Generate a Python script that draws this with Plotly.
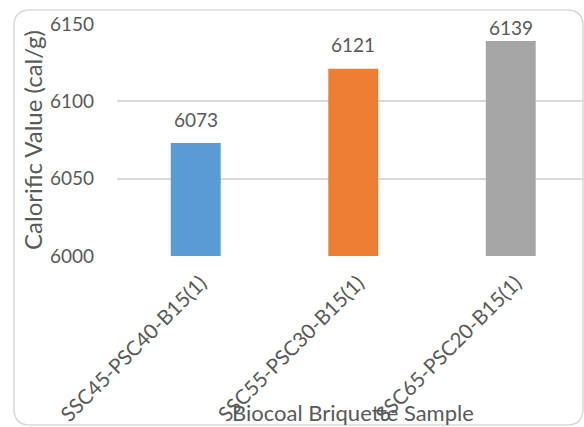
import plotly.graph_objects as go

samples = ["SSC45-PSC40-B15(1)", "SSC55-PSC30-B15(1)", "SSC65-PSC20-B15(1)"]
calorific = [6073, 6121, 6139]
bar_colors = ["#5B9BD5", "#ED7D31", "#A5A5A5"]
y_ticks = [6000, 6050, 6100, 6150]
y_range = [6000, 6150]

W, H = 584, 427
ML, MR, MT, MB = 117, 0, 24, 171
pw, ph = W - ML - MR, H - MT - MB

FONT = "Lato"
TXT = "#595959"


def px_to_paper(x, y):
    return (x - ML) / pw, (H - MB - y) / ph


def rounded_frame(x0, y0, x1, y1, r):
    # rounded rectangle in paper coordinates, corners given in pixels
    rx, ry = r / pw, r / ph
    a0, b0 = px_to_paper(x0, y1)
    a1, b1 = px_to_paper(x1, y0)
    return (f"M {a0+rx},{b0} L {a1-rx},{b0} Q {a1},{b0} {a1},{b0+ry} "
            f"L {a1},{b1-ry} Q {a1},{b1} {a1-rx},{b1} "
            f"L {a0+rx},{b1} Q {a0},{b1} {a0},{b1-ry} "
            f"L {a0},{b0+ry} Q {a0},{b0} {a0+rx},{b0} Z")


fig = go.Figure(
    go.Bar(
        x=samples,
        y=calorific,
        marker=dict(color=bar_colors, line=dict(width=0)),
        width=0.317,
        hoverinfo="x+y",
    )
)

# value labels above the bars, pushed down when close to the top of the chart
px_per_unit = ph / (y_range[1] - y_range[0])
for s, v in zip(samples, calorific):
    top_px = (y_range[1] - v) * px_per_unit  # distance of bar top below plot top
    shift = min(24, top_px - 4)
    fig.add_annotation(
        x=s, y=v, text=str(v), showarrow=False,
        xanchor="center", yanchor="middle", yshift=shift,
        font=dict(family=FONT, size=19, color=TXT),
    )

tx, ty = px_to_paper(353, 412)
fig.add_annotation(
    text="Biocoal Briquette Sample", xref="paper", yref="paper",
    x=tx, y=ty, showarrow=False, xanchor="center", yanchor="middle",
    font=dict(family=FONT, size=22, color=TXT),
)

fig.add_shape(
    type="path", xref="paper", yref="paper",
    path=rounded_frame(14, 10, 583, 425, 16),
    line=dict(color="#D9D9D9", width=1.5), layer="below",
)

fig.update_layout(
    width=W, height=H,
    margin=dict(l=ML, r=MR, t=MT, b=MB),
    paper_bgcolor="white", plot_bgcolor="white",
    showlegend=False,
    xaxis=dict(
        range=[-0.5, -0.5 + pw / 157.5],
        tickangle=-45,
        tickfont=dict(family=FONT, size=20.5, color=TXT),
        showgrid=False, showline=False, ticks="",
        ticklabelstandoff=10, ticklabelshift=5,
        automargin=False,
    ),
    yaxis=dict(
        range=y_range,
        tickvals=y_ticks,
        tickfont=dict(family=FONT, size=19, color=TXT),
        showgrid=True, gridcolor="#D9D9D9", gridwidth=1.5,
        zeroline=False, showline=False, ticks="",
        ticklabelstandoff=22,
        title=dict(text="Calorific Value (cal/g)", standoff=0,
                   font=dict(family=FONT, size=24, color=TXT)),
        automargin=False,
    ),
)

fig.write_html("out.html")
